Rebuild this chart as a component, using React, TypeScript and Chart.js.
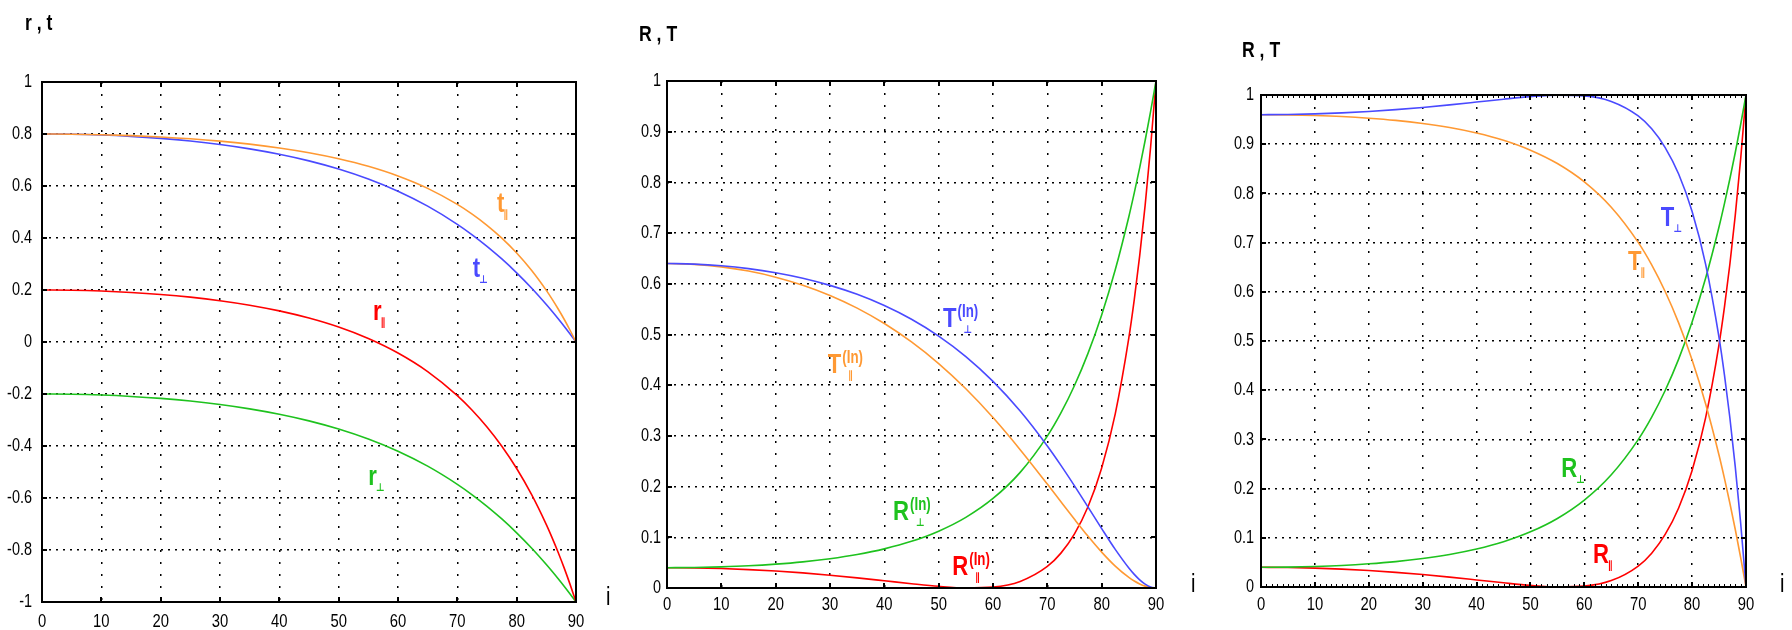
import React, { useEffect, useRef } from "react";
import { Chart, registerables } from "chart.js";
Chart.register(...registerables);

// ---------- data (angle of incidence i, degrees) ----------
const angles = [0, 5, 10, 15, 20, 25, 30, 35, 40, 45, 50, 55, 60, 65, 70, 72.5, 75, 77.5, 80, 82.5, 85, 86, 87, 88, 89, 90];

// panel 1: amplitude coefficients
const tParallel = [0.8, 0.7993, 0.7973, 0.7937, 0.7886, 0.7817, 0.7726, 0.761, 0.7464, 0.728, 0.7048, 0.6756, 0.6384, 0.5908, 0.5292, 0.4918, 0.4488, 0.3994, 0.3422, 0.2759, 0.1985, 0.1639, 0.1269, 0.0875, 0.0452, 0];
const tPerp = [0.8, 0.799, 0.7959, 0.7906, 0.783, 0.7728, 0.7596, 0.7429, 0.7222, 0.6967, 0.6653, 0.6268, 0.5798, 0.5224, 0.4527, 0.4124, 0.3681, 0.3194, 0.2661, 0.2078, 0.1442, 0.1172, 0.0893, 0.0605, 0.0307, 0];
const rParallel = [0.2, 0.199, 0.1959, 0.1906, 0.1829, 0.1725, 0.1589, 0.1416, 0.1196, 0.092, 0.0573, 0.0133, -0.0425, -0.1139, -0.2061, -0.2623, -0.3268, -0.4009, -0.4866, -0.5862, -0.7023, -0.7542, -0.8096, -0.8688, -0.9322, -1];
const rPerp = [-0.2, -0.201, -0.2041, -0.2094, -0.217, -0.2272, -0.2404, -0.2571, -0.2778, -0.3033, -0.3347, -0.3732, -0.4202, -0.4776, -0.5474, -0.5876, -0.632, -0.6806, -0.7339, -0.7922, -0.8558, -0.8828, -0.9107, -0.9395, -0.9693, -1];

// panel 2: intensity coefficients
const TInPerp = [0.64, 0.6389, 0.6356, 0.63, 0.6219, 0.611, 0.5969, 0.5792, 0.5571, 0.53, 0.4968, 0.4564, 0.4075, 0.349, 0.2801, 0.2419, 0.2015, 0.1595, 0.1171, 0.0761, 0.0394, 0.0269, 0.0161, 0.0077, 0.002, 0];
const TInParallel = [0.64, 0.6384, 0.6334, 0.6251, 0.6131, 0.5972, 0.577, 0.552, 0.5216, 0.4853, 0.4426, 0.3929, 0.3362, 0.2729, 0.2049, 0.17, 0.1355, 0.102, 0.0708, 0.0432, 0.0208, 0.0138, 0.008, 0.0037, 0.0009, 0];
const RInPerp = [0.04, 0.0404, 0.0417, 0.0438, 0.0471, 0.0516, 0.0578, 0.0661, 0.0772, 0.092, 0.1121, 0.1393, 0.1766, 0.2281, 0.2996, 0.3453, 0.3994, 0.4632, 0.5386, 0.6276, 0.7323, 0.7793, 0.8293, 0.8826, 0.9395, 1];
const RInParallel = [0.04, 0.0396, 0.0384, 0.0363, 0.0335, 0.0298, 0.0253, 0.02, 0.0143, 0.0085, 0.0033, 0.0002, 0.0018, 0.013, 0.0425, 0.0688, 0.1068, 0.1607, 0.2368, 0.3436, 0.4933, 0.5689, 0.6555, 0.7548, 0.8689, 1];

// panel 3: energy coefficients
const TPerp = [0.96, 0.9604, 0.9616, 0.9637, 0.9665, 0.9702, 0.9747, 0.98, 0.9857, 0.9915, 0.9967, 0.9998, 0.9982, 0.987, 0.9575, 0.9312, 0.8932, 0.8393, 0.7632, 0.6564, 0.5067, 0.4311, 0.3445, 0.2452, 0.1311, 0];
const TParallel = [0.96, 0.9596, 0.9583, 0.9562, 0.9529, 0.9484, 0.9422, 0.9339, 0.9228, 0.908, 0.8879, 0.8607, 0.8234, 0.7719, 0.7004, 0.6547, 0.6006, 0.5368, 0.4614, 0.3724, 0.2677, 0.2207, 0.1707, 0.1174, 0.0605, 0];
const RPerp = [0.04, 0.0404, 0.0417, 0.0438, 0.0471, 0.0516, 0.0578, 0.0661, 0.0772, 0.092, 0.1121, 0.1393, 0.1766, 0.2281, 0.2996, 0.3453, 0.3994, 0.4632, 0.5386, 0.6276, 0.7323, 0.7793, 0.8293, 0.8826, 0.9395, 1];
const RParallel = [0.04, 0.0396, 0.0384, 0.0363, 0.0335, 0.0298, 0.0253, 0.02, 0.0143, 0.0085, 0.0033, 0.0002, 0.0018, 0.013, 0.0425, 0.0688, 0.1068, 0.1607, 0.2368, 0.3436, 0.4933, 0.5689, 0.6555, 0.7548, 0.8689, 1];

// ticks
const xTicks = [0, 10, 20, 30, 40, 50, 60, 70, 80, 90];
const yTicksAmp = [-1, -0.8, -0.6, -0.4, -0.2, 0, 0.2, 0.4, 0.6, 0.8, 1];
const yTicksInt = [0, 0.1, 0.2, 0.3, 0.4, 0.5, 0.6, 0.7, 0.8, 0.9, 1];

// ---------- styling ----------
const SANS = "'Liberation Sans', Arial, sans-serif";
const SYM = "'DejaVu Sans', 'Liberation Sans', sans-serif";
const ORANGE = "#ff9933";
const BLUE = "#4a4aff";
const RED = "#ff0000";
const GREEN = "#1ec21e";
const W = 1792;
const H = 630;
const Y_W = 40;
const X_H = 30;
const NARROW_X = 0.8;

type Series = { values: number[]; color: string };
type Note = { x: number; y: number; main: string; sup?: string; sub: string; color: string };
type PanelDef = {
  area: { left: number; top: number; right: number; bottom: number };
  yMin: number;
  yMax: number;
  yTicks: number[];
  yPad: number;
  xLabelDy: number;
  title: string;
  titleDx: number;
  titleDy: number;
  iDx: number;
  iDy: number;
  series: Series[];
  notes: Note[];
  ruler: boolean;
};

const panels: PanelDef[] = [
  {
    area: { left: 42, top: 82, right: 576, bottom: 602 },
    yMin: -1, yMax: 1, yTicks: yTicksAmp, yPad: 10, xLabelDy: 25,
    title: "r , t", titleDx: -17, titleDy: -52, iDx: 30, iDy: 3,
    series: [
      { values: tParallel, color: ORANGE },
      { values: tPerp, color: BLUE },
      { values: rParallel, color: RED },
      { values: rPerp, color: GREEN },
    ],
    notes: [
      { x: 76.7, y: 0.5, main: "t", sub: "\u2225", color: ORANGE },
      { x: 72.6, y: 0.25, main: "t", sub: "\u22A5", color: BLUE },
      { x: 55.8, y: 0.085, main: "r", sub: "\u2225", color: RED },
      { x: 55.0, y: -0.55, main: "r", sub: "\u22A5", color: GREEN },
    ],
    ruler: false,
  },
  {
    area: { left: 667, top: 81, right: 1156, bottom: 588 },
    yMin: 0, yMax: 1, yTicks: yTicksInt, yPad: 6, xLabelDy: 22,
    title: "R , T", titleDx: -28, titleDy: -40, iDx: 35, iDy: 4,
    series: [
      { values: TInPerp, color: BLUE },
      { values: TInParallel, color: ORANGE },
      { values: RInPerp, color: GREEN },
      { values: RInParallel, color: RED },
    ],
    notes: [
      { x: 50.8, y: 0.515, main: "T", sup: "(In)", sub: "\u22A5", color: BLUE },
      { x: 29.6, y: 0.424, main: "T", sup: "(In)", sub: "\u2225", color: ORANGE },
      { x: 41.6, y: 0.134, main: "R", sup: "(In)", sub: "\u22A5", color: GREEN },
      { x: 52.5, y: 0.026, main: "R", sup: "(In)", sub: "\u2225", color: RED },
    ],
    ruler: false,
  },
  {
    area: { left: 1261, top: 95, right: 1746, bottom: 587 },
    yMin: 0, yMax: 1, yTicks: yTicksInt, yPad: 7, xLabelDy: 23,
    title: "R , T", titleDx: -19, titleDy: -38, iDx: 34, iDy: 5,
    series: [
      { values: TPerp, color: BLUE },
      { values: TParallel, color: ORANGE },
      { values: RPerp, color: GREEN },
      { values: RParallel, color: RED },
    ],
    notes: [
      { x: 74.2, y: 0.734, main: "T", sub: "\u22A5", color: BLUE },
      { x: 68.1, y: 0.644, main: "T", sub: "\u2225", color: ORANGE },
      { x: 55.7, y: 0.224, main: "R", sub: "\u22A5", color: GREEN },
      { x: 61.6, y: 0.049, main: "R", sub: "\u2225", color: RED },
    ],
    ruler: true,
  },
];

// draws horizontally condensed text; returns the drawn width
function narrowText(
  ctx: CanvasRenderingContext2D,
  text: string,
  x: number,
  y: number,
  font: string,
  align: CanvasTextAlign,
  baseline: CanvasTextBaseline,
  sx: number = NARROW_X
): number {
  ctx.save();
  ctx.font = font;
  ctx.textAlign = align;
  ctx.textBaseline = baseline;
  ctx.translate(x, y);
  ctx.scale(sx, 1);
  ctx.fillText(text, 0, 0);
  const w = ctx.measureText(text).width * sx;
  ctx.restore();
  return w;
}

function Panel({ p }: { p: PanelDef }) {
  const ref = useRef<HTMLCanvasElement | null>(null);
  useEffect(() => {
    const canvas = ref.current;
    if (!canvas) return;
    const a0 = p.area;
    const decor = {
      id: "decor",
      afterDraw(chart: any) {
        const { ctx, chartArea: a, scales } = chart;
        const xs = scales.x;
        const ys = scales.y;
        ctx.save();
        // frame
        ctx.strokeStyle = "#000";
        ctx.lineWidth = 2;
        ctx.strokeRect(a.left, a.top, a.right - a.left, a.bottom - a.top);
        // inward tick marks
        ctx.beginPath();
        for (const v of xTicks) {
          const px = Math.round(xs.getPixelForValue(v));
          ctx.moveTo(px, a.bottom);
          ctx.lineTo(px, a.bottom - 5);
          ctx.moveTo(px, a.top);
          ctx.lineTo(px, a.top + 5);
        }
        for (const v of p.yTicks) {
          const py = Math.round(ys.getPixelForValue(v));
          ctx.moveTo(a.left, py);
          ctx.lineTo(a.left + 5, py);
          ctx.moveTo(a.right, py);
          ctx.lineTo(a.right - 5, py);
        }
        ctx.stroke();
        if (p.ruler) {
          ctx.lineWidth = 1;
          ctx.beginPath();
          for (let v = 1; v < 90; v += 1) {
            const px = Math.round(xs.getPixelForValue(v)) + 0.5;
            ctx.moveTo(px, a.bottom);
            ctx.lineTo(px, a.bottom - 3);
            ctx.moveTo(px, a.top);
            ctx.lineTo(px, a.top + 3);
          }
          ctx.stroke();
        }
        // tick labels
        ctx.fillStyle = "#000";
        const tickFont = `19px ${SANS}`;
        for (const v of xTicks) {
          narrowText(ctx, String(v), xs.getPixelForValue(v), a.bottom + p.xLabelDy, tickFont, "center", "alphabetic", 0.78);
        }
        for (const v of p.yTicks) {
          narrowText(ctx, String(v), a.left - p.yPad, ys.getPixelForValue(v), tickFont, "right", "middle", 0.76);
        }
        // title
        narrowText(ctx, p.title, a.left + p.titleDx, a.top + p.titleDy, `bold 22px ${SANS}`, "left", "alphabetic");
        // axis name
        narrowText(ctx, "i", a.right + p.iDx, a.bottom + p.iDy, `25px ${SANS}`, "left", "alphabetic");
        // curve labels
        for (const n of p.notes) {
          const x = xs.getPixelForValue(n.x);
          const y = ys.getPixelForValue(n.y);
          ctx.fillStyle = n.color;
          const w = narrowText(ctx, n.main, x, y, `bold 27px ${SANS}`, "left", "alphabetic", 0.82);
          let subX = x + w - 1;
          if (n.sup) {
            narrowText(ctx, n.sup, x + w + 1, y - 10, `bold 19px ${SANS}`, "left", "alphabetic", 0.7);
            subX = x + w + 7;
          }
          narrowText(ctx, n.sub, subX, y + 6, `bold 11px ${SYM}`, "left", "alphabetic", 0.85);
        }
        ctx.restore();
      },
    };
    const chart = new Chart(canvas, {
      type: "line",
      data: {
        datasets: p.series.map((s) => ({
          data: angles.map((ang, i) => ({ x: ang, y: s.values[i] })),
          borderColor: s.color,
          borderWidth: 1.6,
          pointRadius: 0,
          fill: false,
          cubicInterpolationMode: "monotone" as const,
        })),
      },
      options: {
        animation: false,
        responsive: false,
        devicePixelRatio: 1,
        events: [],
        layout: {
          padding: {
            left: a0.left - Y_W,
            top: a0.top,
            right: W - a0.right,
            bottom: H - a0.bottom - X_H,
          },
        },
        plugins: { legend: { display: false }, tooltip: { enabled: false } },
        scales: {
          x: {
            type: "linear",
            min: 0,
            max: 90,
            afterBuildTicks: (s: any) => {
              s.ticks = xTicks.map((v) => ({ value: v }));
            },
            afterFit: (s: any) => {
              s.height = X_H;
            },
            ticks: { display: false, autoSkip: false },
            grid: { color: "#000", lineWidth: 1.5, drawTicks: false },
            border: { display: false, dash: [2, 10] },
          },
          y: {
            type: "linear",
            min: p.yMin,
            max: p.yMax,
            afterBuildTicks: (s: any) => {
              s.ticks = p.yTicks.map((v) => ({ value: v }));
            },
            afterFit: (s: any) => {
              s.width = Y_W;
            },
            ticks: { display: false, autoSkip: false },
            grid: { color: "#000", lineWidth: 1.5, drawTicks: false },
            border: { display: false, dash: [2, 5] },
          },
        },
      },
      plugins: [decor],
    } as any);
    return () => chart.destroy();
  }, [p]);
  return (
    <canvas
      ref={ref}
      width={W}
      height={H}
      style={{ position: "absolute", left: 0, top: 0, width: W, height: H }}
    />
  );
}

export default function App() {
  return (
    <div style={{ position: "absolute", left: 0, top: 0, width: W, height: H, background: "#fff", overflow: "hidden" }}>
      {panels.map((p, i) => (
        <Panel key={i} p={p} />
      ))}
    </div>
  );
}
